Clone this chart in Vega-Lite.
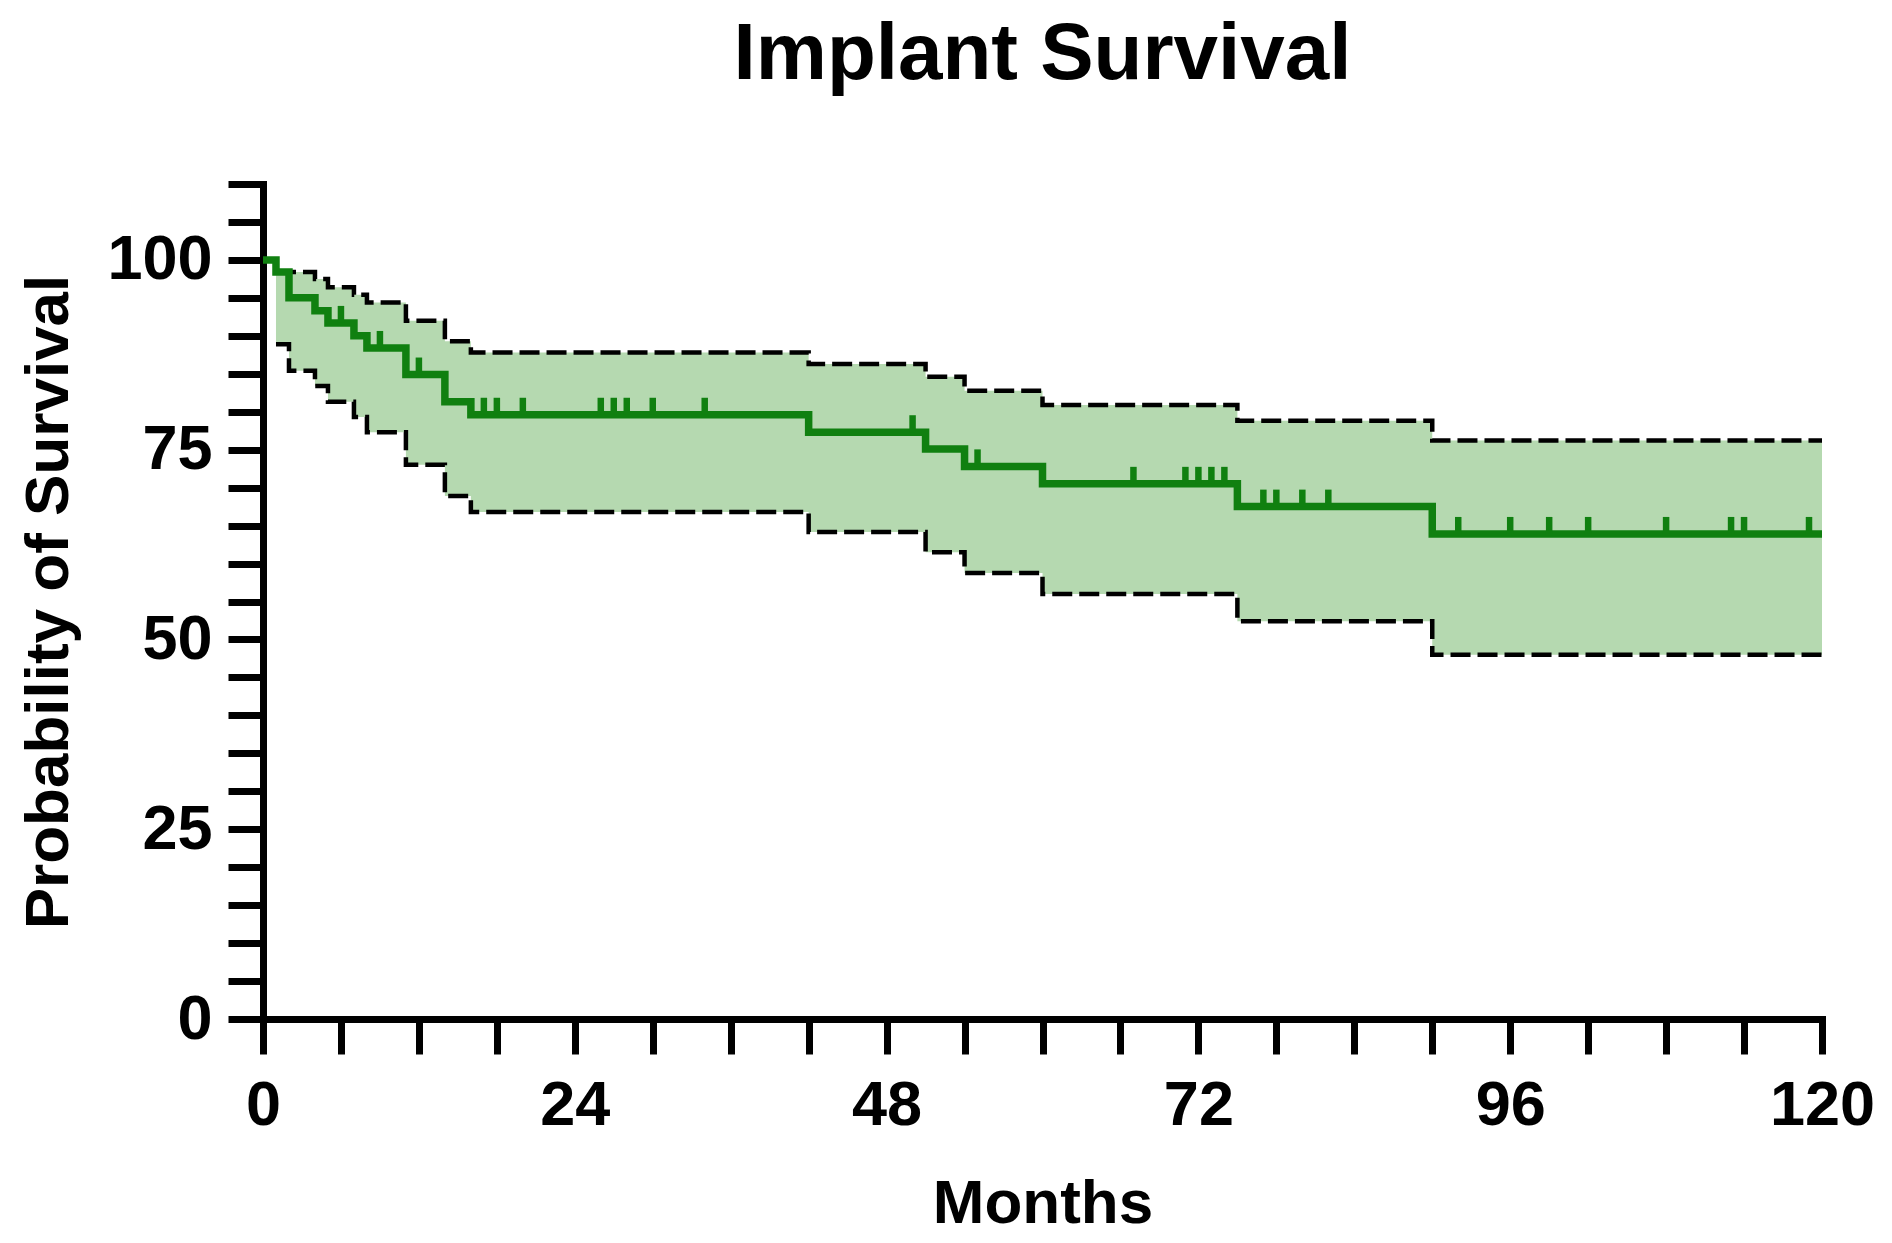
{
  "$schema": "https://vega.github.io/schema/vega-lite/v6.json",
  "width": 1559,
  "height": 835,
  "autosize": {"type": "none"},
  "padding": {"left": 263, "top": 184, "right": 70, "bottom": 224},
  "background": "white",
  "title": {
    "text": "Implant Survival",
    "font": "Liberation Sans",
    "fontWeight": "bold",
    "fontSize": 80,
    "color": "black",
    "anchor": "middle",
    "frame": "group",
    "baseline": "alphabetic",
    "offset": -6
  },
  "config": {
    "view": {"stroke": null},
    "axis": {
      "grid": false,
      "domainColor": "black",
      "domainWidth": 7,
      "domainCap": "square",
      "tickColor": "black",
      "tickWidth": 7,
      "tickSize": 35,
      "labelFont": "Liberation Sans",
      "labelFontWeight": "bold",
      "labelFontSize": 63,
      "labelColor": "black",
      "labelOverlap": false,
      "labelFlush": false,
      "labelBound": false,
      "titleFont": "Liberation Sans",
      "titleFontWeight": "bold",
      "titleFontSize": 62,
      "titleColor": "black"
    }
  },
  "datasets": {
    "surv": [
      {"month": 0, "surv": 100},
      {"month": 1, "surv": 98.4},
      {"month": 2, "surv": 95.0},
      {"month": 4, "surv": 93.3},
      {"month": 5, "surv": 91.7},
      {"month": 7, "surv": 90.0},
      {"month": 8, "surv": 88.4},
      {"month": 11, "surv": 84.9},
      {"month": 14, "surv": 81.3},
      {"month": 16, "surv": 79.6},
      {"month": 42, "surv": 77.3},
      {"month": 51, "surv": 75.1},
      {"month": 54, "surv": 72.8},
      {"month": 60, "surv": 70.5},
      {"month": 75, "surv": 67.5},
      {"month": 90, "surv": 63.9},
      {"month": 120, "surv": 63.9}
    ],
    "ci": [
      {"month": 1, "lower": 88.9, "upper": 98.4},
      {"month": 2, "lower": 85.4, "upper": 98.4},
      {"month": 4, "lower": 83.4, "upper": 97.5},
      {"month": 5, "lower": 81.3, "upper": 96.4},
      {"month": 7, "lower": 79.3, "upper": 95.4},
      {"month": 8, "lower": 77.3, "upper": 94.4},
      {"month": 11, "lower": 73.0, "upper": 92.0},
      {"month": 14, "lower": 68.9, "upper": 89.3},
      {"month": 16, "lower": 66.8, "upper": 87.8},
      {"month": 42, "lower": 64.15, "upper": 86.3},
      {"month": 51, "lower": 61.5, "upper": 84.6},
      {"month": 54, "lower": 58.75, "upper": 82.75},
      {"month": 60, "lower": 56.0, "upper": 80.9},
      {"month": 75, "lower": 52.4, "upper": 78.8},
      {"month": 90, "lower": 48.0, "upper": 76.2},
      {"month": 120, "lower": 48.0, "upper": 76.2}
    ],
    "censored": [
      {"month": 6, "surv": 91.7},
      {"month": 9, "surv": 88.4},
      {"month": 12, "surv": 84.9},
      {"month": 17, "surv": 79.6},
      {"month": 18, "surv": 79.6},
      {"month": 20, "surv": 79.6},
      {"month": 26, "surv": 79.6},
      {"month": 27, "surv": 79.6},
      {"month": 28, "surv": 79.6},
      {"month": 30, "surv": 79.6},
      {"month": 34, "surv": 79.6},
      {"month": 50, "surv": 77.3},
      {"month": 55, "surv": 72.8},
      {"month": 67, "surv": 70.5},
      {"month": 71, "surv": 70.5},
      {"month": 72, "surv": 70.5},
      {"month": 73, "surv": 70.5},
      {"month": 74, "surv": 70.5},
      {"month": 77, "surv": 67.5},
      {"month": 78, "surv": 67.5},
      {"month": 80, "surv": 67.5},
      {"month": 82, "surv": 67.5},
      {"month": 92, "surv": 63.9},
      {"month": 96, "surv": 63.9},
      {"month": 99, "surv": 63.9},
      {"month": 102, "surv": 63.9},
      {"month": 108, "surv": 63.9},
      {"month": 113, "surv": 63.9},
      {"month": 114, "surv": 63.9},
      {"month": 119, "surv": 63.9}
    ]
  },
  "encoding": {
    "x": {
      "field": "month",
      "type": "quantitative",
      "scale": {"domain": [0, 120], "nice": false, "zero": false},
      "axis": {
        "title": "Months",
        "values": [0, 6, 12, 18, 24, 30, 36, 42, 48, 54, 60, 66, 72, 78, 84, 90, 96, 102, 108, 114, 120],
        "labelExpr": "datum.value % 24 === 0 ? datum.label : ''",
        "labelPadding": 20,
        "titleY": 203,
        "titleBaseline": "alphabetic",
        "encode": {
          "ticks": {"update": {"y2": {"signal": "datum.value % 24 === 0 ? 35 : 20"}}}
        }
      }
    },
    "y": {
      "type": "quantitative",
      "scale": {"domain": [0, 110], "nice": false},
      "axis": {
        "title": "Probability of Survival",
        "values": [0, 5, 10, 15, 20, 25, 30, 35, 40, 45, 50, 55, 60, 65, 70, 75, 80, 85, 90, 95, 100, 105, 110],
        "labelExpr": "datum.value % 25 === 0 ? datum.label : ''",
        "labelPadding": 16,
        "titleAngle": 270,
        "titleX": -196,
        "titleBaseline": "alphabetic",
        "encode": {
          "ticks": {"update": {"x2": {"signal": "datum.value % 25 === 0 ? -35 : -20"}}}
        }
      }
    }
  },
  "layer": [
    {
      "data": {"name": "ci"},
      "mark": {"type": "area", "interpolate": "step-after", "color": "#b5d9b0", "opacity": 1},
      "encoding": {
        "y": {"field": "lower"},
        "y2": {"field": "upper"}
      }
    },
    {
      "data": {"name": "ci"},
      "mark": {"type": "line", "interpolate": "step-after", "color": "black", "strokeWidth": 4.5, "strokeDash": [20, 7]},
      "encoding": {
        "y": {"field": "upper"}
      }
    },
    {
      "data": {"name": "ci"},
      "mark": {"type": "line", "interpolate": "step-after", "color": "black", "strokeWidth": 4.5, "strokeDash": [20, 7]},
      "encoding": {
        "y": {"field": "lower"}
      }
    },
    {
      "data": {"name": "surv"},
      "mark": {"type": "line", "interpolate": "step-after", "color": "#108010", "strokeWidth": 7.5, "strokeJoin": "miter"},
      "encoding": {
        "y": {"field": "surv"}
      }
    },
    {
      "data": {"name": "censored"},
      "mark": {"type": "tick", "orient": "vertical", "color": "#108010", "size": 17, "thickness": 6.5, "yOffset": -8.5, "opacity": 1},
      "encoding": {
        "y": {"field": "surv"}
      }
    }
  ]
}
